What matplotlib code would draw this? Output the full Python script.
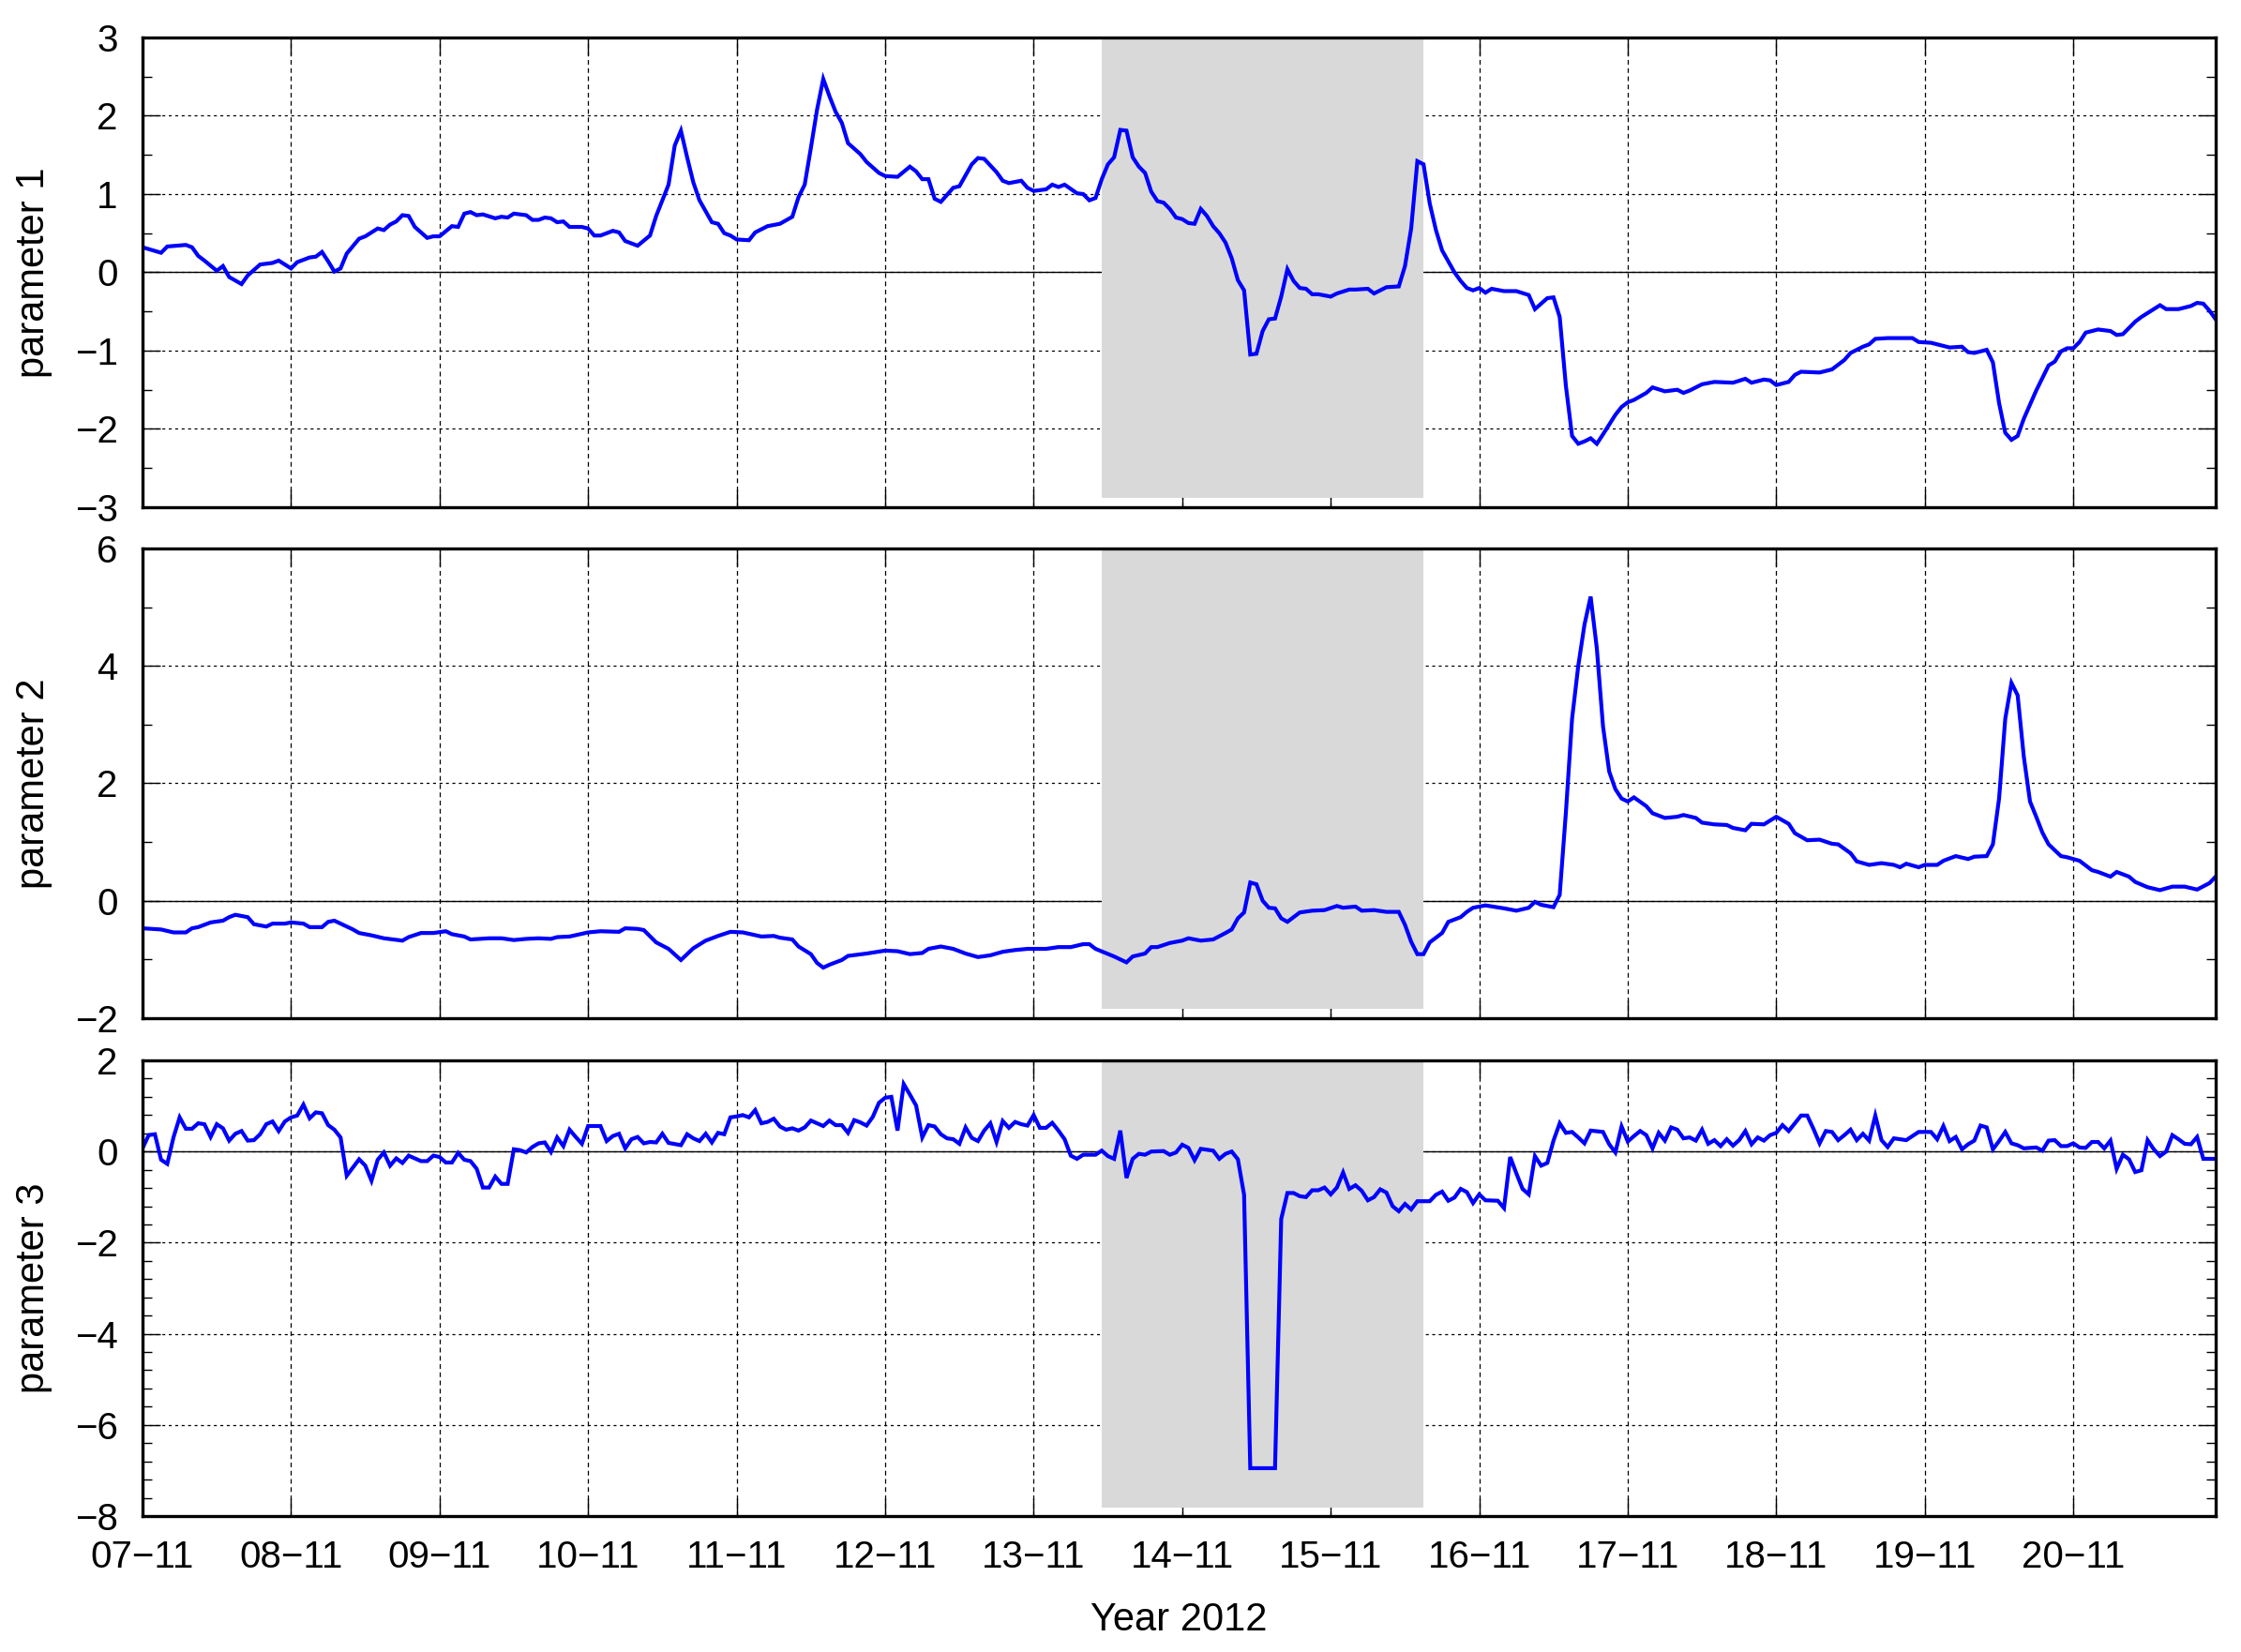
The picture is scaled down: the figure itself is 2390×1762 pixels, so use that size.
import matplotlib
matplotlib.use("Agg")
import matplotlib.pyplot as plt
from matplotlib.ticker import MultipleLocator, FixedLocator

plt.rcParams['font.family'] = ['Liberation Sans', 'DejaVu Sans']
plt.rcParams['axes.unicode_minus'] = True

# ---------------- data (hours since 07-11-2012 00:00) ----------------
p1_hours = [0, 3, 4, 7, 8, 9, 10, 12, 13, 14,
            16, 17, 19, 21, 22, 24, 25, 27, 28, 29,
            30, 31, 32, 33, 35, 36, 38, 39, 40, 41,
            42, 43, 44, 46, 47, 48, 50, 51, 52, 53,
            54, 55, 57, 58, 59, 60, 62, 63, 64, 65,
            66, 67, 68, 69, 71, 72, 73, 74, 76, 77,
            78, 80, 82, 83, 85, 86, 87, 88, 89, 90,
            91, 92, 93, 94, 95, 96, 98, 99, 101, 103,
            105, 106, 107, 108, 109, 110, 111, 112, 113, 114,
            116, 117, 119, 120, 122, 124, 125, 126, 127, 128,
            129, 131, 132, 134, 135, 136, 138, 139, 140, 142,
            143, 144, 146, 147, 148, 149, 151, 152, 153, 154,
            155, 156, 157, 158, 159, 160, 161, 162, 163, 164,
            165, 166, 167, 168, 169, 170, 171, 172, 173, 174,
            175, 176, 177, 178, 179, 180, 181, 182, 183, 184,
            185, 186, 187, 188, 189, 190, 192, 193, 195, 196,
            198, 199, 201, 203, 204, 205, 206, 207, 208, 209,
            210, 212, 213, 214, 215, 216, 217, 218, 220, 222,
            224, 225, 226, 227, 228, 229, 230, 231, 232, 233,
            234, 235, 236, 238, 239, 240, 241, 243, 244, 246,
            248, 249, 250, 252, 254, 257, 259, 260, 262, 263,
            264, 266, 267, 268, 271, 273, 275, 276, 278, 279,
            280, 282, 284, 286, 287, 289, 292, 294, 295, 296,
            298, 299, 300, 301, 302, 303, 304, 306, 308, 309,
            310, 311, 312, 313, 314, 316, 318, 319, 320, 322,
            323, 325, 326, 327, 329, 331, 332, 333, 334, 335]
p1_values = [0.32, 0.25, 0.33, 0.35, 0.32, 0.21, 0.15, 0.02, 0.08, -0.06,
             -0.15, -0.04, 0.10, 0.12, 0.15, 0.05, 0.13, 0.19, 0.20, 0.26,
             0.14, 0.01, 0.05, 0.24, 0.43, 0.46, 0.56, 0.54, 0.61, 0.65,
             0.73, 0.72, 0.58, 0.44, 0.46, 0.46, 0.59, 0.58, 0.75, 0.77,
             0.73, 0.74, 0.69, 0.71, 0.70, 0.75, 0.73, 0.67, 0.67, 0.70,
             0.69, 0.64, 0.65, 0.58, 0.58, 0.56, 0.47, 0.47, 0.53, 0.51,
             0.40, 0.34, 0.47, 0.72, 1.12, 1.62, 1.81, 1.47, 1.15, 0.92,
             0.78, 0.64, 0.62, 0.50, 0.47, 0.42, 0.41, 0.51, 0.59, 0.62,
             0.71, 0.96, 1.12, 1.59, 2.08, 2.47, 2.25, 2.05, 1.91, 1.65,
             1.51, 1.41, 1.27, 1.23, 1.22, 1.35, 1.29, 1.19, 1.19, 0.94,
             0.90, 1.08, 1.10, 1.38, 1.46, 1.45, 1.28, 1.17, 1.14, 1.17,
             1.08, 1.04, 1.06, 1.12, 1.09, 1.12, 1.01, 1.00, 0.92, 0.95,
             1.19, 1.38, 1.47, 1.82, 1.81, 1.47, 1.35, 1.27, 1.03, 0.91,
             0.89, 0.81, 0.70, 0.68, 0.63, 0.62, 0.81, 0.72, 0.59, 0.50,
             0.38, 0.18, -0.10, -0.23, -1.05, -1.04, -0.75, -0.60, -0.59, -0.31,
             0.04, -0.11, -0.20, -0.21, -0.28, -0.28, -0.31, -0.27, -0.22, -0.22,
             -0.21, -0.27, -0.19, -0.18, 0.08, 0.56, 1.42, 1.38, 0.88, 0.54,
             0.28, 0.00, -0.11, -0.20, -0.23, -0.20, -0.26, -0.21, -0.24, -0.24,
             -0.29, -0.47, -0.40, -0.33, -0.32, -0.57, -1.45, -2.09, -2.19, -2.16,
             -2.12, -2.19, -2.07, -1.82, -1.72, -1.66, -1.63, -1.54, -1.47, -1.52,
             -1.50, -1.54, -1.51, -1.43, -1.40, -1.41, -1.36, -1.41, -1.37, -1.38,
             -1.44, -1.40, -1.31, -1.27, -1.28, -1.24, -1.12, -1.03, -0.95, -0.92,
             -0.85, -0.84, -0.84, -0.84, -0.89, -0.90, -0.96, -0.95, -1.02, -1.03,
             -0.99, -1.15, -1.67, -2.05, -2.14, -2.09, -1.87, -1.51, -1.19, -1.14,
             -1.01, -0.97, -0.97, -0.89, -0.77, -0.73, -0.75, -0.80, -0.79, -0.63,
             -0.57, -0.47, -0.42, -0.47, -0.47, -0.43, -0.39, -0.40, -0.49, -0.60]

p2_hours = [0, 3, 5, 7, 8, 9, 11, 13, 14, 15,
            17, 18, 20, 21, 23, 24, 26, 27, 29, 30,
            31, 33, 34, 35, 37, 39, 42, 43, 45, 47,
            49, 50, 52, 53, 56, 58, 60, 62, 64, 66,
            67, 69, 72, 74, 77, 78, 80, 81, 83, 85,
            87, 89, 91, 93, 95, 97, 100, 102, 103, 105,
            106, 108, 109, 110, 111, 113, 114, 117, 120, 122,
            124, 126, 127, 129, 131, 133, 135, 137, 139, 141,
            143, 146, 148, 150, 152, 153, 154, 157, 159, 160,
            162, 163, 164, 166, 168, 169, 171, 173, 175, 176,
            177, 178, 179, 180, 181, 182, 183, 184, 185, 187,
            189, 191, 193, 194, 196, 197, 199, 201, 203, 204,
            205, 206, 207, 208, 210, 211, 213, 214, 215, 217,
            220, 222, 224, 225, 226, 228, 229, 230, 231, 232,
            233, 234, 235, 236, 237, 238, 239, 240, 241, 243,
            244, 246, 248, 249, 251, 252, 254, 256, 257, 259,
            260, 262, 264, 266, 267, 269, 271, 273, 274, 276,
            277, 279, 281, 283, 284, 285, 287, 288, 290, 291,
            293, 295, 296, 298, 299, 300, 301, 302, 303, 304,
            305, 306, 307, 308, 310, 311, 313, 315, 316, 318,
            319, 321, 322, 324, 326, 328, 330, 332, 334, 335]
p2_values = [-0.47, -0.49, -0.54, -0.54, -0.47, -0.45, -0.37, -0.34, -0.28, -0.24,
             -0.28, -0.40, -0.44, -0.39, -0.39, -0.37, -0.39, -0.45, -0.45, -0.36,
             -0.34, -0.44, -0.49, -0.55, -0.59, -0.64, -0.68, -0.62, -0.55, -0.55,
             -0.52, -0.57, -0.61, -0.66, -0.64, -0.64, -0.67, -0.65, -0.64, -0.65,
             -0.62, -0.61, -0.54, -0.52, -0.53, -0.47, -0.48, -0.50, -0.71, -0.82,
             -1.01, -0.81, -0.68, -0.60, -0.53, -0.54, -0.61, -0.60, -0.63, -0.66,
             -0.78, -0.91, -1.06, -1.14, -1.09, -1.01, -0.94, -0.90, -0.85, -0.86,
             -0.91, -0.89, -0.82, -0.78, -0.82, -0.90, -0.96, -0.93, -0.87, -0.84,
             -0.82, -0.82, -0.79, -0.79, -0.74, -0.74, -0.82, -0.95, -1.05, -0.95,
             -0.90, -0.79, -0.79, -0.72, -0.68, -0.64, -0.68, -0.66, -0.55, -0.49,
             -0.30, -0.20, 0.31, 0.28, 0.00, -0.12, -0.13, -0.30, -0.36, -0.20,
             -0.17, -0.16, -0.09, -0.12, -0.10, -0.17, -0.16, -0.19, -0.19, -0.41,
             -0.70, -0.91, -0.91, -0.71, -0.55, -0.36, -0.28, -0.19, -0.12, -0.08,
             -0.13, -0.17, -0.12, -0.02, -0.07, -0.11, 0.10, 1.50, 3.10, 4.00,
             4.70, 5.18, 4.30, 2.97, 2.20, 1.90, 1.74, 1.69, 1.76, 1.61,
             1.49, 1.41, 1.43, 1.46, 1.41, 1.33, 1.30, 1.29, 1.24, 1.20,
             1.31, 1.30, 1.43, 1.31, 1.15, 1.03, 1.04, 0.97, 0.96, 0.81,
             0.67, 0.61, 0.64, 0.61, 0.57, 0.63, 0.57, 0.61, 0.61, 0.68,
             0.76, 0.71, 0.75, 0.76, 0.96, 1.74, 3.10, 3.71, 3.50, 2.45,
             1.69, 1.43, 1.16, 0.96, 0.76, 0.74, 0.68, 0.52, 0.49, 0.41,
             0.49, 0.41, 0.32, 0.23, 0.18, 0.24, 0.24, 0.19, 0.30, 0.41]

p3_hours = [0, 1, 2, 3, 4, 5, 6, 7, 8, 9,
            10, 11, 12, 13, 14, 15, 16, 17, 18, 19,
            20, 21, 22, 23, 24, 25, 26, 27, 28, 29,
            30, 31, 32, 33, 35, 36, 37, 38, 39, 40,
            41, 42, 43, 45, 46, 47, 48, 49, 50, 51,
            52, 53, 54, 55, 56, 57, 58, 59, 60, 61,
            62, 63, 64, 65, 66, 67, 68, 69, 70, 71,
            72, 74, 75, 76, 77, 78, 79, 80, 81, 82,
            83, 84, 85, 87, 88, 89, 90, 91, 92, 93,
            94, 95, 96, 97, 98, 99, 100, 101, 102, 103,
            104, 105, 106, 107, 108, 109, 110, 111, 112, 113,
            114, 115, 116, 117, 118, 119, 120, 121, 122, 123,
            124, 125, 126, 127, 128, 129, 130, 131, 132, 133,
            134, 135, 136, 137, 138, 139, 140, 141, 142, 143,
            144, 145, 146, 147, 148, 149, 150, 151, 152, 154,
            155, 156, 157, 158, 159, 160, 161, 162, 163, 165,
            166, 167, 168, 169, 170, 171, 173, 174, 175, 176,
            177, 178, 179, 183, 184, 185, 186, 187, 188, 189,
            190, 191, 192, 193, 194, 195, 196, 197, 198, 199,
            200, 201, 202, 203, 204, 205, 206, 208, 209, 210,
            211, 212, 213, 214, 215, 216, 217, 219, 220, 221,
            222, 223, 224, 225, 226, 227, 228, 229, 230, 231,
            232, 233, 234, 236, 237, 238, 239, 240, 241, 242,
            243, 244, 245, 246, 247, 248, 249, 250, 251, 252,
            253, 254, 255, 256, 257, 258, 259, 260, 261, 262,
            263, 264, 265, 266, 267, 268, 269, 270, 271, 272,
            273, 274, 275, 276, 277, 278, 279, 280, 281, 282,
            283, 285, 286, 287, 289, 290, 291, 292, 293, 294,
            295, 296, 297, 298, 299, 300, 301, 302, 303, 304,
            306, 307, 308, 309, 310, 311, 312, 313, 314, 315,
            316, 317, 318, 319, 320, 321, 322, 323, 324, 325,
            326, 327, 328, 329, 330, 331, 332, 333, 335]
p3_values = [0.07, 0.36, 0.38, -0.18, -0.27, 0.31, 0.75, 0.50, 0.50, 0.62,
             0.60, 0.32, 0.60, 0.51, 0.24, 0.39, 0.45, 0.24, 0.25, 0.38,
             0.60, 0.66, 0.45, 0.66, 0.75, 0.79, 1.03, 0.73, 0.86, 0.84,
             0.58, 0.48, 0.31, -0.53, -0.17, -0.31, -0.64, -0.18, -0.02, -0.31,
             -0.15, -0.25, -0.09, -0.21, -0.21, -0.09, -0.12, -0.24, -0.24, -0.03,
             -0.18, -0.21, -0.38, -0.79, -0.79, -0.55, -0.71, -0.71, 0.05, 0.03,
             -0.02, 0.10, 0.18, 0.20, -0.01, 0.31, 0.12, 0.48, 0.32, 0.17,
             0.56, 0.56, 0.23, 0.34, 0.39, 0.07, 0.27, 0.32, 0.18, 0.21,
             0.20, 0.39, 0.19, 0.14, 0.38, 0.29, 0.23, 0.39, 0.20, 0.41,
             0.38, 0.75, 0.77, 0.80, 0.75, 0.91, 0.62, 0.65, 0.72, 0.55,
             0.48, 0.51, 0.46, 0.53, 0.68, 0.62, 0.56, 0.68, 0.58, 0.58,
             0.41, 0.69, 0.64, 0.57, 0.76, 1.07, 1.18, 1.20, 0.46, 1.48,
             1.25, 1.01, 0.31, 0.58, 0.55, 0.38, 0.29, 0.27, 0.17, 0.53,
             0.30, 0.23, 0.46, 0.62, 0.21, 0.67, 0.52, 0.65, 0.60, 0.57,
             0.80, 0.52, 0.52, 0.63, 0.46, 0.27, -0.09, -0.16, -0.07, -0.07,
             0.02, -0.10, -0.16, 0.46, -0.58, -0.16, -0.05, -0.07, 0.00, 0.01,
             -0.07, -0.02, 0.15, 0.08, -0.19, 0.06, 0.02, -0.16, -0.05, 0.00,
             -0.17, -0.95, -6.95, -6.95, -1.48, -0.91, -0.91, -0.98, -1.00, -0.85,
             -0.85, -0.79, -0.94, -0.79, -0.46, -0.82, -0.74, -0.86, -1.07, -1.00,
             -0.83, -0.90, -1.20, -1.31, -1.15, -1.27, -1.09, -1.09, -0.95, -0.88,
             -1.08, -1.01, -0.82, -0.89, -1.13, -0.94, -1.07, -1.08, -1.24, -0.12,
             -0.48, -0.82, -0.94, -0.10, -0.31, -0.25, 0.24, 0.62, 0.41, 0.43,
             0.31, 0.18, 0.46, 0.43, 0.16, -0.02, 0.55, 0.22, 0.34, 0.45,
             0.36, 0.07, 0.41, 0.24, 0.53, 0.48, 0.29, 0.31, 0.24, 0.48,
             0.17, 0.25, 0.12, 0.27, 0.13, 0.25, 0.45, 0.16, 0.31, 0.24,
             0.36, 0.41, 0.58, 0.45, 0.62, 0.79, 0.79, 0.50, 0.18, 0.45,
             0.43, 0.25, 0.36, 0.48, 0.25, 0.39, 0.24, 0.79, 0.25, 0.10,
             0.29, 0.25, 0.34, 0.43, 0.43, 0.27, 0.56, 0.23, 0.32, 0.05,
             0.16, 0.24, 0.57, 0.53, 0.05, 0.23, 0.43, 0.18, 0.14, 0.07,
             0.09, 0.02, 0.24, 0.25, 0.12, 0.12, 0.18, 0.09, 0.08, 0.21,
             0.21, 0.07, 0.24, -0.38, -0.07, -0.17, -0.45, -0.41, 0.25, 0.05,
             -0.10, 0.00, 0.36, 0.27, 0.17, 0.16, 0.32, -0.16, -0.16]

day_ticks = [0, 24, 48, 72, 96, 120, 144, 168, 192, 216, 240, 264, 288, 312]
day_labels = ['07−11', '08−11', '09−11', '10−11', '11−11', '12−11', '13−11',
              '14−11', '15−11', '16−11', '17−11', '18−11', '19−11', '20−11']
shade_span = (155, 207)
x_label = 'Year 2012'
y_labels = ['parameter 1', 'parameter 2', 'parameter 3']
y_limits = [(-3, 3), (-2, 6), (-8, 2)]
y_major = [1, 2, 2]
y_minor = [0.5, 1, 0.4]

series = [(p1_hours, p1_values), (p2_hours, p2_values), (p3_hours, p3_values)]

# ---------------- figure ----------------
fig = plt.figure(figsize=(23.9, 17.62), dpi=100)
rects = [(0.0636, 0.6930, 0.9251, 0.2843),
         (0.0636, 0.3837, 0.9251, 0.2843),
         (0.0636, 0.0823, 0.9251, 0.2758)]

for i, (rect, (hx, vy)) in enumerate(zip(rects, series)):
    ax = fig.add_axes(rect)
    ax.set_axisbelow(True)
    ax.axvspan(shade_span[0], shade_span[1], ymin=0.019, ymax=1.0,
               facecolor='#d9d9d9', edgecolor='none', zorder=1)
    ax.axhline(0, color='black', lw=1.0, zorder=0.8)
    ax.plot(hx, vy, color='#0000ff', lw=3.0, zorder=3, solid_joinstyle='miter')
    ax.set_xlim(0, 335)
    ax.set_ylim(*y_limits[i])
    ax.xaxis.set_major_locator(FixedLocator(day_ticks))
    ax.set_xticklabels(day_labels)
    ax.yaxis.set_major_locator(MultipleLocator(y_major[i]))
    ax.yaxis.set_minor_locator(MultipleLocator(y_minor[i]))
    ax.grid(True, axis='x', which='major', color='black', lw=0.9, ls=(0, (4, 3)))
    ax.grid(True, axis='y', which='major', color='black', lw=0.9, ls=(0, (2.5, 3)))
    ax.tick_params(which='both', direction='in', top=True, right=True,
                   width=1.0, labelsize=29, color='black')
    ax.tick_params(which='major', length=14)
    ax.tick_params(which='minor', length=7)
    ax.tick_params(axis='y', pad=19)
    ax.tick_params(axis='x', pad=18)
    for sp in ax.spines.values():
        sp.set_linewidth(2.4)
        sp.set_zorder(5)
    ax.set_ylabel(y_labels[i], fontsize=30, va='center')
    ax.yaxis.set_label_coords(-0.0525, 0.5)
    if i < 2:
        ax.tick_params(axis='x', labelbottom=False)
    else:
        ax.set_xlabel(x_label, fontsize=30, va='center')
        ax.xaxis.set_label_coords(0.5, -0.228)

fig.savefig('out.png', dpi=100)
